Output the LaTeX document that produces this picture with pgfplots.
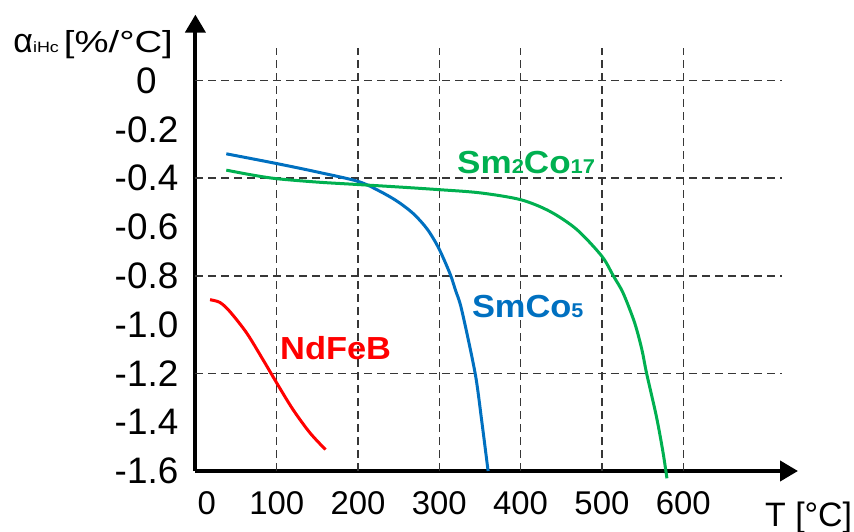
\documentclass[border=0pt]{standalone}
\usepackage{graphicx}
\usepackage{pgfplots}
\pgfplotsset{compat=1.18}
\usepackage{fontspec}
\setmainfont{Liberation Sans}
\usetikzlibrary{arrows.meta}

\definecolor{cRed}{RGB}{255,0,0}
\definecolor{cBlue}{RGB}{0,112,192}
\definecolor{cGreen}{RGB}{0,176,80}
\definecolor{cGrid}{RGB}{55,55,55}

\newcommand{\sub}[1]{{\fontsize{20}{24}\selectfont #1}}

\begin{document}
\begin{tikzpicture}
\path[use as bounding box] (-195.4bp,-61bp) rectangle (658.6bp,471bp);
\begin{axis}[
  at={(0,0)}, anchor=south west,
  scale only axis, width=602.6bp, height=456.4bp,
  xmin=0, xmax=741.2, ymin=-1.6, ymax=0.2705,
  axis x line=bottom, axis y line=left,
  x axis line style={line width=4bp, -{Triangle[width=20bp,length=18bp]}},
  y axis line style={line width=4bp, -{Triangle[width=20bp,length=18bp]}},
  major tick length=0pt,
  xtick={14,100,200,300,400,500,600},
  xticklabels={0,100,200,300,400,500,600},
  ytick={0,-0.2,-0.4,-0.6,-0.8,-1.0,-1.2,-1.4,-1.6},
  yticklabels={0,-0.2,-0.4,-0.6,-0.8,-1.0,-1.2,-1.4,-1.6},
  xticklabel style={font=\fontsize{33}{38}\selectfont, anchor=center, yshift=-32.5bp},
  yticklabel style={font=\fontsize{37}{42}\selectfont, anchor=center, xshift=-48.9bp},
  clip=false,
]
% dashed grid
\pgfplotsinvokeforeach{100,200,300,400,500,600}{
  \draw[cGrid, line width=1.4bp, dash pattern=on 8bp off 5bp] (axis cs:#1,-1.6) -- (axis cs:#1,0.135);
}
\pgfplotsinvokeforeach{0,-0.4,-0.8,-1.2}{
  \draw[cGrid, line width=1.4bp, dash pattern=on 8bp off 5bp] (axis cs:0,#1) -- (axis cs:721,#1);
}

% NdFeB
\addplot[cRed, line width=3bp, smooth] coordinates {
  (18,-0.898) (30,-0.909) (42,-0.945) (63,-1.034) (83,-1.143)
  (100,-1.239) (120,-1.348) (141,-1.444) (160,-1.512)
};
% SmCo5
\addplot[cBlue, line width=3bp, smooth] coordinates {
  (38,-0.300) (100,-0.340) (149,-0.374) (200,-0.413) (226,-0.452)
  (248,-0.494) (268,-0.545) (285,-0.608) (299,-0.685) (313,-0.79)
  (320,-0.86) (327.5,-0.939) (344,-1.198) (352,-1.39) (360,-1.60)
};
% Sm2Co17
\addplot[cGreen, line width=3bp, smooth] coordinates {
  (38,-0.367) (70,-0.387) (100,-0.402) (150,-0.416) (200,-0.426) (250,-0.436)
  (300,-0.447) (350,-0.46) (400,-0.488) (436,-0.536) (469,-0.61) (500,-0.72)
  (514,-0.80) (526,-0.87) (540,-0.99) (549,-1.10) (555,-1.20) (567,-1.376)
  (575,-1.52) (580,-1.63)
};

% axis titles
\node[anchor=base west, inner sep=0pt]
  at (axis cs:-224,0.117) {{\fontsize{34}{38}\selectfont α}%
  \scalebox{1.2}[1]{\fontsize{15}{18}\selectfont iHc}\hspace{5bp}%
  \scalebox{1.26}[1]{\fontsize{30.5}{36}\selectfont [\%/°C]}};
\node[anchor=base west, inner sep=0pt, font=\fontsize{34}{38}\selectfont]
  at (axis cs:700.6,-1.827) {T [°C]};

% curve names
\node[anchor=base west, inner sep=0pt, text=cGreen, font=\fontsize{32}{38}\selectfont\bfseries]
  at (axis cs:321.8,-0.381) {\scalebox{1.1}[1]{Sm\sub{2}Co\sub{17}}};
\node[anchor=base west, inner sep=0pt, text=cBlue, font=\fontsize{32}{38}\selectfont\bfseries]
  at (axis cs:340,-0.971) {\scalebox{1.08}[1]{SmCo\sub{5}}};
\node[anchor=base west, inner sep=0pt, text=cRed, font=\fontsize{32}{38}\selectfont\bfseries]
  at (axis cs:104,-1.143) {\scalebox{1.08}[1]{NdFeB}};
\end{axis}
\end{tikzpicture}
\end{document}
